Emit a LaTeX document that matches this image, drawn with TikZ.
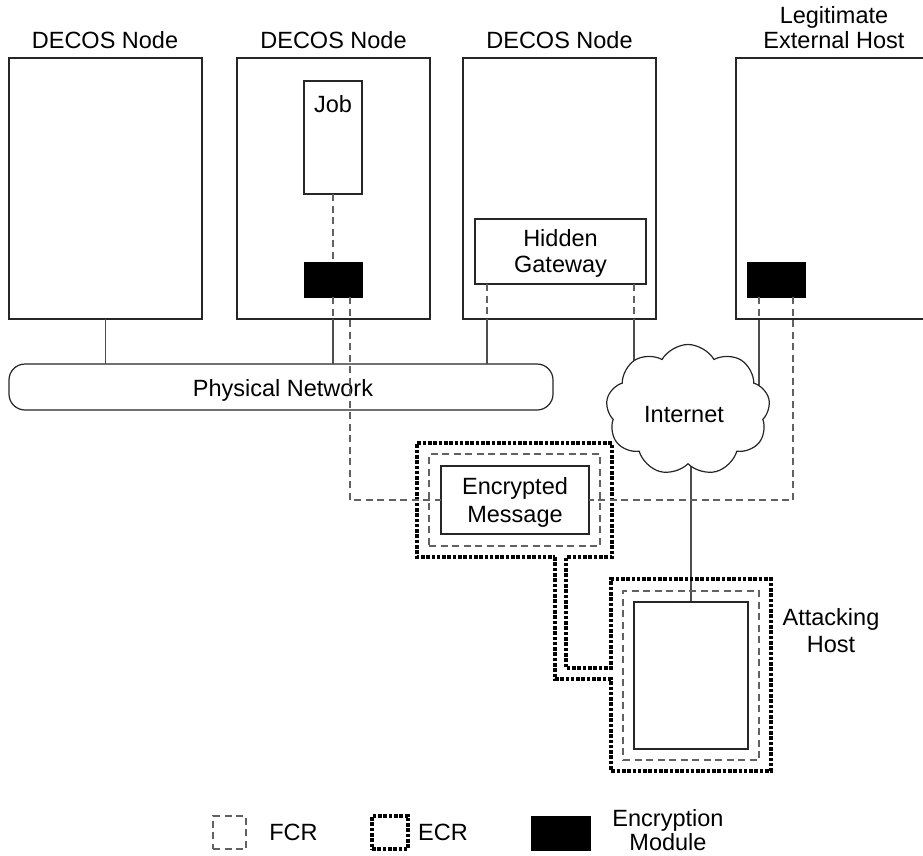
\documentclass[tikz,border=0pt]{standalone}
\usepackage{fontspec}
\setmainfont{Liberation Sans}
\usetikzlibrary{shapes.symbols,calc}
\pgfdeclarelayer{background}
\pgfsetlayers{background,main}
\begin{document}
\begin{tikzpicture}[x=1pt,y=-1pt,
  every node/.style={font=\fontsize{23.5}{26}\selectfont, inner sep=0pt, outer sep=0pt},
  box/.style={draw=black!85, line width=1.2pt, fill=white},
  modbox/.style={fill=black, draw=black, minimum width=58pt, minimum height=35pt},
  link/.style={draw=black!70, line width=1.3pt},
  fcr/.style={draw=black!62, line width=1.2pt, dash pattern=on 7pt off 4.5pt},
  ecr/.style={draw=black, line width=4.2pt, dash pattern=on 3.6pt off 1.7pt},
  lbl/.style={anchor=base},
]
\path[use as bounding box, clip] (0,0) rectangle (923,856);

% top labels
\node[lbl] (l1) at (105,49) {DECOS Node};
\node[lbl] (l2) at (333.5,49) {DECOS Node};
\node[lbl] (l3) at (559.5,49) {DECOS Node};
\node[lbl] (l4a) at (834,24) {Legitimate};
\node[lbl] (l4b) at (834,49) {External Host};

% big boxes
\node[box, minimum width=193pt, minimum height=261pt] (n1) at (105.5,188.5) {};
\node[box, minimum width=193pt, minimum height=261pt] (n2) at (333.5,188.5) {};
\node[box, minimum width=193pt, minimum height=261pt] (n3) at (559.5,188.5) {};
\node[box, minimum width=193pt, minimum height=261pt] (n4) at (832.5,188.5) {};

% inner boxes
\node[box, minimum width=58pt, minimum height=113pt] (job) at (333,137.5) {};
\node[lbl] (jobt) at (333,113) {Job};
\node[modbox] (em2) at (333,279.5) {};
\node[box, minimum width=171pt, minimum height=65pt] (gw) at (560.5,251.5) {};
\node[lbl] (gwt1) at (560.5,246) {Hidden};
\node[lbl] (gwt2) at (560.5,272) {Gateway};
\node[modbox] (em4) at (776,279.5) {};

% physical network
\node[box, rounded corners=16pt, minimum width=544pt, minimum height=46pt] (net) at (281,387) {};
\node[lbl] (nett) at (283,396) {Physical Network};

% internet cloud
\node[cloud, draw=black!85, line width=1.2pt, fill=white, cloud puffs=9, cloud puff arc=120,
      aspect=1.25, minimum width=164pt, minimum height=131pt] (inet) at (688,410) {};
\node[lbl] (inett) at (684,422) {Internet};

% encrypted message with FCR
\node[fcr, minimum width=171pt, minimum height=92pt] (msgf) at (514.5,500) {};
\node[box, minimum width=148pt, minimum height=68pt] (msg) at (515,500) {};
\node[lbl] (msgt1) at (515,494) {Encrypted};
\node[lbl] (msgt2) at (515,522) {Message};

% attacking host with FCR
\node[fcr, minimum width=136pt, minimum height=169pt] (attf) at (691,675.5) {};
\node[box, minimum width=114pt, minimum height=147pt] (att) at (691,675.5) {};
\node[lbl] (attt1) at (831,625) {Attacking};
\node[lbl] (attt2) at (831,652) {Host};

% ECR outline
\draw[ecr] (555,557) -- (555,679) -- (611,679) -- (611,771) -- (771,771) -- (771,579)
  -- (611,579) -- (611,668) -- (566,668) -- (566,557) -- (612,557) -- (612,443)
  -- (417,443) -- (417,557) -- cycle;

% helper coordinates on modules / gateway
\coordinate (e2r) at ([xshift=-12pt]em2.south east);
\coordinate (gl) at ([xshift=12pt]gw.south west);
\coordinate (gr) at ([xshift=-12pt]gw.south east);
\coordinate (e4l) at ([xshift=12pt]em4.south west);
\coordinate (e4r) at ([xshift=-12pt]em4.south east);

% physical links
\draw[link] (n1.south) -- (n1.south |- net.north);
\draw[link] (em2.south |- n2.south) -- (em2.south |- net.north);
\draw[link] (gl |- n3.south) -- (gl |- net.north);
\begin{pgfonlayer}{background}
\draw[link] (gr |- n3.south) -- (gr |- inet.center);
\draw[link] (e4l |- n4.south) -- (e4l |- inet.center);
\draw[link] (att.north) -- (att.north |- inet.center);
\end{pgfonlayer}

% FCR (dashed) communication paths
\draw[fcr] (job.south) -- (em2.north);
\draw[fcr] (em2.south) -- (em2.south |- n2.south);
\draw[fcr] (e2r) |- (msg.west);
\draw[fcr] (gl) -- (gl |- n3.south);
\draw[fcr] (gr) -- (gr |- n3.south);
\draw[fcr] (e4l) -- (e4l |- n4.south);
\draw[fcr] (e4r) |- (msg.east);

% legend
\node[fcr, minimum width=33pt, minimum height=33pt] (lgf) at (229.5,832.5) {};
\node[lbl] (lgft) at (293.5,840) {FCR};
\node[ecr, minimum width=36pt, minimum height=33pt] (lge) at (390,832.5) {};
\node[lbl] (lget) at (443,840) {ECR};
\node[modbox, minimum width=59pt, minimum height=34pt] (lgm) at (560.5,833) {};
\node[lbl] (lgmt1) at (668,826) {Encryption};
\node[lbl] (lgmt2) at (668,850) {Module};
\end{tikzpicture}
\end{document}
